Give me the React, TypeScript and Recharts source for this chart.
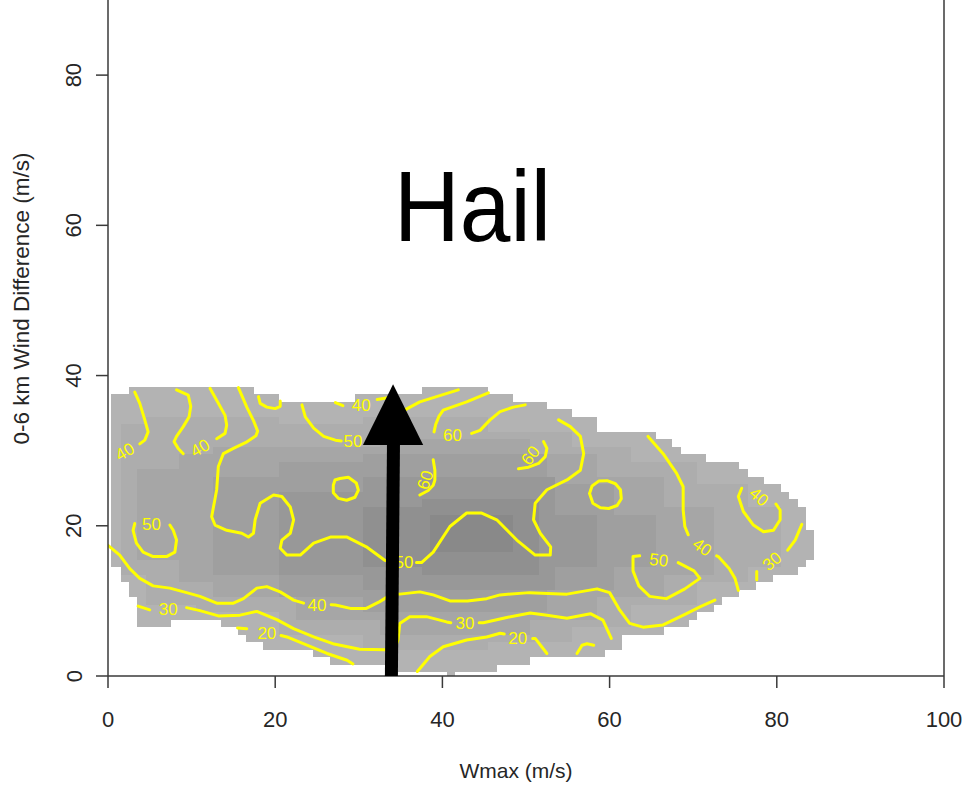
import React from 'react';
import {
  ComposedChart,
  XAxis,
  YAxis,
  Line,
  Scatter,
  ReferenceArea,
  ReferenceLine,
} from 'recharts';

// ---- axes ----
const xTicks = [0, 20, 40, 60, 80, 100];
const yTicks = [0, 20, 40, 60, 80];

// ---- density field: stepped cells [x1, x2, yLow, yHigh], lightest to darkest ----
const shadeOuter = [
  [0.3, 1.5, 14.5, 37.5], [1.5, 2.5, 12.5, 37.5], [2.5, 3.5, 10.5, 38.5],
  [3.5, 7.5, 6.5, 38.5], [7.5, 13.5, 7.5, 38.5], [13.5, 15.5, 6.5, 38.5],
  [15.5, 16.5, 5.5, 38.5], [16.5, 17.5, 4.5, 38.5], [17.5, 18.5, 4.5, 37.5],
  [18.5, 20.5, 3.5, 37.5], [20.5, 24.5, 3.5, 36.5], [24.5, 26.5, 2.5, 36.5],
  [26.5, 29.5, 1.5, 36.5], [29.5, 34.5, 1.5, 37.5], [34.5, 37.5, 0.5, 37.5],
  [37.5, 40.5, 0.5, 38.5], [40.5, 41.5, 0, 38.5], [41.5, 45.5, 0.5, 38.5],
  [45.5, 46.5, 0.5, 37.5], [46.5, 48.5, 1.5, 37.5], [48.5, 50.5, 1.5, 36.5],
  [50.5, 52.5, 2.5, 36.5], [52.5, 55.5, 2.5, 35.5], [55.5, 58.5, 2.5, 34.5],
  [58.5, 59.5, 2.5, 32.5], [59.5, 61.5, 3.5, 32.5], [61.5, 65.5, 5.5, 32.5],
  [65.5, 66.5, 5.5, 31.5], [66.5, 67.5, 6.5, 31.5], [67.5, 68.5, 6.5, 30.5],
  [68.5, 69.5, 6.5, 29.5], [69.5, 70.5, 7.5, 29.5], [70.5, 71.5, 8.5, 29.5],
  [71.5, 72.5, 8.5, 28.5], [72.5, 73.5, 9.5, 28.5], [73.5, 75.5, 10.5, 28.5],
  [75.5, 76.5, 11.5, 27.5], [76.5, 77.5, 11.5, 26.5], [77.5, 78.5, 12.5, 26.5],
  [78.5, 79.5, 12.5, 25.5], [79.5, 80.5, 13.5, 25.5], [80.5, 81.5, 13.5, 24.5],
  [81.5, 82.5, 13.5, 23.5], [82.5, 83.5, 14.5, 22.5], [83.5, 84.5, 15.5, 19.5],
];
const shade1 = [
  [1.5, 4.5, 13.5, 33.5], [4.5, 10.5, 9.5, 34.5], [10.5, 20.5, 8.5, 34.5],
  [20.5, 30.5, 5.5, 33.5], [30.5, 45.5, 3.5, 34.5], [45.5, 55.5, 4.5, 32.5],
  [55.5, 62.5, 6.5, 30.5], [62.5, 70.5, 9.5, 28.5], [70.5, 76.5, 12.5, 25.5],
  [76.5, 80.5, 14.5, 22.5],
];
const shade2 = [
  [3.5, 8.5, 15.5, 27.5], [8.5, 12.5, 12.5, 29.5], [12.5, 22.5, 10.5, 30.5],
  [22.5, 32.5, 7.5, 30.5], [32.5, 50.5, 5.5, 31.5], [50.5, 58.5, 7.5, 29.5],
  [58.5, 66.5, 10.5, 26.5], [66.5, 72.5, 13.5, 22.5],
];
const shade3 = [
  [12.5, 20.5, 13.5, 26.5], [20.5, 30.5, 10.5, 28.5], [30.5, 52.5, 8.5, 29.5],
  [52.5, 60.5, 11.5, 25.5], [60.5, 65.5, 14.5, 21.5],
];
const shade4 = [
  [20.5, 30.5, 13.5, 24.5], [30.5, 53.5, 11.5, 26.5], [53.5, 58.5, 14.5, 21.5],
];
const shade5 = [
  [30.5, 37.5, 14.5, 22.5], [37.5, 51.5, 13.5, 23.5],
];
const shade6 = [
  [38.5, 48.5, 16.5, 21.5],
];

// ---- contour segments (x, y), broken where labels sit ----
const c40a = [[3.2, 37.8], [3.8, 36.3], [4.4, 34.1], [4.8, 32.5], [4.4, 31.4], [3.8, 30.9]];
const c40bLeft = [[8.2, 38.1], [9.6, 37.4], [9.9, 35.9], [9.7, 34.5], [9.0, 33.2], [8.2, 31.9], [7.9, 31.2], [8.4, 30.3], [9.0, 29.6]];
const c40bRight = [[13.0, 31.6], [14.0, 32.3], [14.2, 33.4], [14.0, 34.7], [13.2, 36.3], [12.2, 38.3]];
const c40c = [[18.0, 37.2], [18.2, 36.3], [19.0, 35.8], [20.0, 35.6], [20.6, 35.9], [20.6, 36.6]];
const c40topLeft = [[27.2, 36.4], [28.1, 36.0]];
const c40topRight = [[32.2, 36.8], [33.3, 37.0], [34.0, 37.3]];
const c50dLeft = [[23.2, 36.1], [23.6, 34.5], [24.6, 33.0], [25.8, 31.9], [27.2, 31.4], [27.9, 31.3]];
const c50dRight = [[31.2, 31.8], [32.0, 32.3], [33.5, 33.8], [35.0, 35.1], [35.8, 35.6], [37.3, 36.5], [39.3, 37.2], [41.9, 38.1]];
const c60topLeft = [[45.5, 37.7], [42.9, 36.5], [40.1, 35.4], [39.6, 34.6], [39.2, 33.5], [39.0, 32.5]];
const c60topRight = [[43.5, 32.3], [44.5, 32.7], [45.7, 34.1], [46.9, 35.2], [48.5, 35.8], [49.9, 36.1]];
const c60ring = [[26.95, 25.4], [27.15, 26.1], [27.75, 26.3], [28.75, 26.45], [29.7, 25.7], [29.95, 24.75], [29.55, 23.8], [28.55, 23.4], [27.55, 23.65], [26.95, 24.4], [26.95, 25.4]];
const c50fLeft = [
  [15.6, 38.4], [16.6, 35.8], [17.4, 34.0], [17.9, 32.6], [17.7, 32.0], [16.5, 31.1], [15.0, 30.3],
  [13.8, 29.6], [13.2, 27.9], [13.0, 24.8], [12.4, 21.2], [12.8, 20.1], [14.2, 19.4], [16.0, 19.0],
  [16.8, 18.5], [17.4, 19.0], [17.6, 20.8], [18.2, 23.0], [19.8, 24.1], [20.8, 23.9], [21.8, 22.5],
  [22.2, 20.8], [21.8, 19.0], [20.8, 18.1], [20.6, 17.0], [21.4, 16.1], [23.0, 16.1], [24.6, 17.7],
  [26.6, 18.5], [28.6, 18.5], [30.9, 17.2], [33.1, 15.4], [34.0, 15.2],
];
const c50fRight = [
  [36.9, 15.1], [37.5, 15.1], [38.9, 16.5], [40.9, 19.9], [42.9, 21.7], [44.7, 21.7], [46.5, 20.8],
  [48.9, 18.1], [51.1, 16.1], [52.9, 16.1], [52.95, 17.2], [51.7, 19.0], [50.9, 20.8], [51.1, 23.0],
  [52.5, 24.8], [54.9, 26.1], [56.5, 27.4], [56.9, 29.6], [56.5, 31.9], [55.3, 33.2], [53.9, 34.1],
];
const c50g = [[3.2, 20.3], [3.0, 19.4], [3.4, 17.7], [4.2, 16.5], [5.4, 15.9], [7.0, 15.9], [8.0, 16.5], [8.2, 18.1], [7.8, 19.4], [7.4, 20.1]];
const c40hLeft = [
  [0, 17.4], [1.4, 16.1], [2.6, 14.3], [3.8, 13.0], [5.4, 12.0], [7.4, 11.7], [9.4, 11.1], [11.0, 10.6],
  [13.0, 9.7], [15.0, 9.7], [16.2, 10.3], [17.8, 11.7], [19.0, 11.9], [20.6, 11.2], [22.2, 10.1], [23.4, 9.7],
];
const c40hRight = [
  [26.7, 9.5], [27.2, 9.45], [29.0, 9.0], [30.9, 9.0], [32.5, 9.9], [34.1, 11.0], [34.9, 10.9], [37.3, 11.2],
  [38.9, 10.8], [40.9, 10.0], [43.0, 10.0], [45.3, 10.3], [46.9, 10.8], [50.4, 11.1], [54.9, 10.9],
  [58.5, 11.6], [60.0, 11.1], [61.2, 8.8], [62.4, 7.0], [64.0, 6.5], [66.4, 6.8], [69.2, 8.3], [70.8, 9.2], [72.6, 10.1],
];
const c30iLeft = [[3.6, 9.3], [5.0, 8.8]];
const c30iMid = [
  [9.4, 9.1], [11.0, 8.7], [13.2, 8.0], [15.8, 8.1], [17.8, 8.6], [20.2, 7.5], [22.2, 6.3], [24.6, 5.2],
  [26.9, 4.3], [30.1, 3.55], [33.1, 3.5], [34.3, 3.7], [34.7, 4.8], [34.9, 7.0], [36.1, 7.9], [38.1, 7.9],
  [40.5, 7.2], [41.0, 7.1],
];
const c30iRight = [[44.4, 7.1], [44.9, 7.1], [47.7, 7.8], [50.5, 8.4], [52.5, 8.1], [54.9, 7.7], [57.7, 8.3], [59.2, 7.45], [60.2, 5.0]];
const c20jDash = [[15.5, 6.4], [16.6, 6.3]];
const c20jLeft = [[20.7, 5.4], [21.4, 5.2], [23.8, 4.1], [26.2, 3.0], [28.6, 2.1], [29.3, 1.6]];
const c20jMid = [[37.0, 0.6], [37.3, 1.0], [38.5, 2.6], [40.1, 3.9], [42.9, 4.8], [45.3, 5.2], [46.9, 5.7], [47.4, 5.6]];
const c20jRight = [[50.8, 5.0], [51.1, 5.0], [52.5, 3.0]];
const c20jBump = [[56.1, 3.0], [56.7, 4.1], [57.3, 4.3], [58.1, 4.1]];
const c60k = [[38.9, 28.8], [39.1, 27.4], [39.1, 26.1], [38.9, 25.4], [38.3, 24.7], [37.3, 24.1]];
const c60l = [[52.1, 31.2], [52.5, 30.3], [52.3, 29.2], [51.5, 28.3], [50.3, 27.8], [49.1, 27.6]];
const c60ringRight = [[57.6, 24.3], [57.9, 25.3], [58.7, 25.95], [59.7, 26.0], [60.7, 25.6], [61.3, 24.8], [61.4, 23.6], [60.9, 22.7], [59.9, 22.3], [58.9, 22.4], [58.0, 23.0], [57.6, 24.3]];
const c40nTop = [[64.6, 31.9], [66.4, 29.6], [68.0, 27.0], [68.8, 25.2], [68.8, 22.1], [69.0, 19.9], [69.4, 18.8]];
const c40nBottom = [[72.8, 16.0], [73.0, 15.9], [74.3, 14.3], [75.0, 13.0], [75.4, 11.4]];
const c50o = [[63.6, 16.0], [62.8, 15.9], [62.8, 14.0], [63.5, 12.0], [64.8, 10.6], [66.8, 10.3], [69.0, 11.6], [70.8, 13.0], [70.1, 14.0], [68.2, 15.1]];
const c40p = [[75.8, 25.0], [75.4, 23.9], [76.0, 21.9], [77.2, 20.1], [78.4, 19.2], [79.6, 19.4], [80.4, 20.8], [80.4, 22.1], [79.9, 22.9]];
const c30qTop = [[83.0, 20.2], [82.2, 18.1], [81.3, 16.75]];
const c30qBottom = [[77.6, 13.9], [77.6, 12.8]];

const contourSegments = [
  c40a, c40bLeft, c40bRight, c40c, c40topLeft, c40topRight, c50dLeft, c50dRight,
  c60topLeft, c60topRight, c60ring, c50fLeft, c50fRight, c50g, c40hLeft, c40hRight,
  c30iLeft, c30iMid, c30iRight, c20jDash, c20jLeft, c20jMid, c20jRight, c20jBump,
  c60k, c60l, c60ringRight, c40nTop, c40nBottom, c50o, c40p, c30qTop, c30qBottom,
];

// ---- contour level labels ----
const contourLabels = [
  { x: 2.0, y: 29.9, text: '40', angle: -30 },
  { x: 11.0, y: 30.4, text: '40', angle: -30 },
  { x: 30.3, y: 36.1, text: '40', angle: 0 },
  { x: 29.3, y: 31.3, text: '50', angle: 0 },
  { x: 41.2, y: 32.1, text: '60', angle: 0 },
  { x: 35.4, y: 15.15, text: '50', angle: 0 },
  { x: 5.2, y: 20.2, text: '50', angle: 0 },
  { x: 25.0, y: 9.5, text: '40', angle: 0 },
  { x: 7.2, y: 8.9, text: '30', angle: 0 },
  { x: 42.7, y: 7.1, text: '30', angle: 0 },
  { x: 19.0, y: 5.7, text: '20', angle: 0 },
  { x: 49.0, y: 5.1, text: '20', angle: 0 },
  { x: 37.9, y: 26.1, text: '60', angle: -72 },
  { x: 50.5, y: 29.4, text: '60', angle: -52 },
  { x: 71.1, y: 17.2, text: '40', angle: 35 },
  { x: 65.9, y: 15.5, text: '50', angle: 6 },
  { x: 77.9, y: 23.9, text: '40', angle: 40 },
  { x: 79.4, y: 15.3, text: '30', angle: -40 },
];

// ---- annotations ----
const titleText = [{ x: 43.6, y: 57.95, text: 'Hail' }];
const arrowShaft = [[33.9, 0], [34.15, 31.0]];
const arrowHead = { x1: 30.5, x2: 37.7, y1: 30.75, y2: 38.83 };

const toPoints = (pairs: number[][]) => pairs.map(([x, y]) => ({ x, y }));

const FONT = '"Liberation Sans", Arial, Helvetica, sans-serif';
const AXIS = '#3a3a3a';
const TEXT = '#262626';
const CONTOUR = '#ffff00';

const shadeLayers = [
  { cells: shadeOuter, fill: '#b3b3b3' },
  { cells: shade1, fill: '#adadad' },
  { cells: shade2, fill: '#a6a6a6' },
  { cells: shade3, fill: '#9f9f9f' },
  { cells: shade4, fill: '#989898' },
  { cells: shade5, fill: '#909090' },
  { cells: shade6, fill: '#898989' },
];

const XTick = (props: any) => {
  const { x, y, payload } = props;
  return (
    <text x={x} y={y + 37} textAnchor="middle" fontSize={22} fontFamily={FONT} fill={TEXT}>
      {payload.value}
    </text>
  );
};

const YTick = (props: any) => {
  const { x, y, payload } = props;
  const bx = x - 12.5;
  return (
    <text
      x={bx}
      y={y}
      textAnchor="middle"
      fontSize={22}
      fontFamily={FONT}
      fill={TEXT}
      transform={`rotate(-90 ${bx} ${y})`}
    >
      {payload.value}
    </text>
  );
};

const XTitle = (props: any) => {
  const vb = props.viewBox || { x: 108, y: 676, width: 836, height: 110 };
  const cx = vb.x + vb.width / 2 - 10;
  return (
    <text x={cx} y={vb.y + 102} textAnchor="middle" fontSize={21} fontFamily={FONT} fill={TEXT}>
      Wmax (m/s)
    </text>
  );
};

const YTitle = () => {
  const bx = 28.5;
  const cy = 298.5;
  return (
    <text
      x={bx}
      y={cy}
      textAnchor="middle"
      fontSize={22.5}
      fontFamily={FONT}
      fill={TEXT}
      transform={`rotate(-90 ${bx} ${cy})`}
    >
      0-6 km Wind Difference (m/s)
    </text>
  );
};

const CellShape = (fill: string) => (p: any) => (
  <rect x={p.x} y={p.y} width={p.width} height={p.height} fill={fill} shapeRendering="crispEdges" />
);

const TriangleShape = (p: any) => (
  <polygon
    points={`${p.x},${p.y + p.height} ${p.x + p.width},${p.y + p.height} ${p.x + p.width / 2},${p.y}`}
    fill="#000"
  />
);

const ContourLabel = (props: any) => {
  const { cx, cy, payload } = props;
  return (
    <text
      x={cx}
      y={cy}
      dy="0.36em"
      textAnchor="middle"
      fontSize={17}
      fontFamily={FONT}
      fill={CONTOUR}
      transform={`rotate(${payload.angle} ${cx} ${cy})`}
    >
      {payload.text}
    </text>
  );
};

const TitleShape = (props: any) => {
  const { cx, cy, payload } = props;
  return (
    <text
      x={0}
      y={0}
      textAnchor="middle"
      fontSize={100}
      fontFamily={FONT}
      fill="#000"
      transform={`translate(${cx} ${cy}) scale(0.91 1)`}
    >
      {payload.text}
    </text>
  );
};

export default function App() {
  return (
    <div style={{ position: 'absolute', left: 0, top: 0, width: 964, height: 786, background: '#fff' }}>
      <ComposedChart width={964} height={786} margin={{ top: 0, right: 20, bottom: 0, left: 0 }}>
        <XAxis
          type="number"
          dataKey="x"
          domain={[0, 100]}
          ticks={xTicks}
          interval={0}
          allowDataOverflow
          height={110}
          tickSize={12}
          axisLine={{ stroke: AXIS, strokeWidth: 1.5 }}
          tickLine={{ stroke: AXIS, strokeWidth: 1.5 }}
          tick={<XTick />}
          label={<XTitle />}
        />
        <YAxis
          type="number"
          dataKey="y"
          domain={[0, 90]}
          ticks={yTicks}
          interval={0}
          allowDataOverflow
          width={108}
          tickSize={12}
          axisLine={{ stroke: AXIS, strokeWidth: 1.5 }}
          tickLine={{ stroke: AXIS, strokeWidth: 1.5 }}
          tick={<YTick />}
          label={<YTitle />}
        />
        <ReferenceLine x={100} stroke={AXIS} strokeWidth={1.5} />

        {shadeLayers.map((layer, li) =>
          layer.cells.map((c, ci) => (
            <ReferenceArea
              key={`s${li}-${ci}`}
              x1={c[0]}
              x2={c[1]}
              y1={c[2]}
              y2={c[3]}
              fillOpacity={1}
              shape={CellShape(layer.fill)}
            />
          ))
        )}

        {contourSegments.map((seg, i) => (
          <Line
            key={`c${i}`}
            data={toPoints(seg)}
            dataKey="y"
            type="linear"
            dot={false}
            activeDot={false}
            stroke={CONTOUR}
            strokeWidth={3}
            strokeLinejoin="round"
            strokeLinecap="round"
            isAnimationActive={false}
          />
        ))}

        <Scatter data={contourLabels} shape={ContourLabel} isAnimationActive={false} />
        <Scatter data={titleText} shape={TitleShape} isAnimationActive={false} />

        <Line
          data={toPoints(arrowShaft)}
          dataKey="y"
          type="linear"
          dot={false}
          activeDot={false}
          stroke="#000"
          strokeWidth={13}
          isAnimationActive={false}
          zIndex={800}
        />
        <ReferenceArea
          x1={arrowHead.x1}
          x2={arrowHead.x2}
          y1={arrowHead.y1}
          y2={arrowHead.y2}
          fillOpacity={1}
          shape={TriangleShape}
          zIndex={900}
        />
      </ComposedChart>
    </div>
  );
}
